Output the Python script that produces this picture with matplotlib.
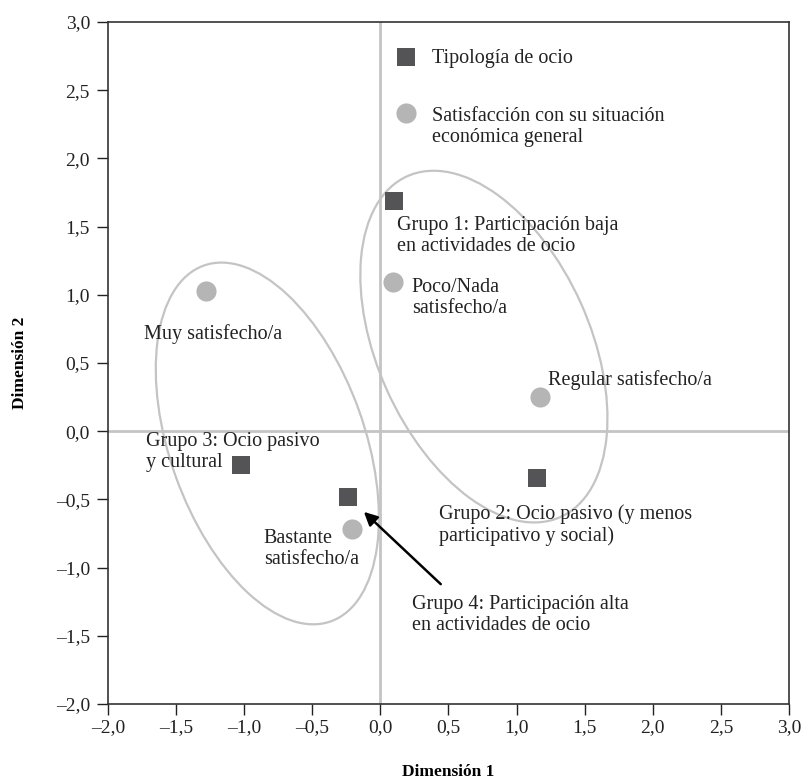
import matplotlib
matplotlib.use("Agg")
import matplotlib.pyplot as plt
from matplotlib.patches import Ellipse
from matplotlib.ticker import FuncFormatter
from matplotlib.legend_handler import HandlerPathCollection
import numpy as np

plt.rcParams['font.family'] = ['Liberation Serif', 'DejaVu Serif']

# Tipología de ocio (squares)
grupo_labels = ['Grupo 1: Participación baja\nen actividades de ocio',
                'Grupo 2: Ocio pasivo (y menos\nparticipativo y social)',
                'Grupo 3: Ocio pasivo\ny cultural',
                'Grupo 4: Participación alta\nen actividades de ocio']
grupo_x = [0.10, 1.15, -1.02, -0.24]
grupo_y = [1.69, -0.34, -0.25, -0.48]

# Satisfacción con su situación económica general (circles)
satis_labels = ['Muy satisfecho/a', 'Poco/Nada\nsatisfecho/a',
                'Regular satisfecho/a', 'Bastante\nsatisfecho/a']
satis_x = [-1.28, 0.09, 1.17, -0.21]
satis_y = [1.03, 1.09, 0.25, -0.72]

# clusters (ellipses): center x, center y, width, height, angle
ell_cx = [-0.83, 0.76]
ell_cy = [-0.09, 0.62]
ell_w = [2.77, 2.74]
ell_h = [1.43, 1.56]
ell_ang = [-70.3, -65.7]

SQ = '#545457'
CI = '#b5b5b5'
LG = '#c4c4c4'
TC = '#222222'

fig = plt.figure(figsize=(8.03, 7.79), dpi=100)
ax = fig.add_axes([0.1345, 0.0963, 0.848, 0.8755])

ax.axhline(0, color=LG, lw=2, zorder=1)
ax.axvline(0, color=LG, lw=2, zorder=1)

for cx, cy, w, h, a in zip(ell_cx, ell_cy, ell_w, ell_h, ell_ang):
    ax.add_patch(Ellipse((cx, cy), w, h, angle=a, fill=False, ec=LG, lw=1.6, zorder=2))

sq = ax.scatter(grupo_x, grupo_y, marker='s', s=170, color=SQ, lw=0, zorder=4,
                label='Tipología de ocio')
ci = ax.scatter(satis_x, satis_y, marker='o', s=210, color=CI, lw=0, zorder=4,
                label='Satisfacción con su situación\neconómica general')

fs = 14.5
ls = 1.15
# text offsets (points) from each point, top-left anchored
grupo_off = [(2, -11), (-70.6, -19), (-68.4, 24), (46, -71)]
satis_off = [(-44.6, -24), (13.7, 3.5), (5.8, 19.5), (-63.4, 0.5)]

for lab, x, y, off in zip(grupo_labels, grupo_x, grupo_y, grupo_off):
    ax.annotate(lab, (x, y), xytext=off, textcoords='offset points', linespacing=ls,
                ha='left', va='top', fontsize=fs, color=TC, zorder=5)
for lab, x, y, off in zip(satis_labels, satis_x, satis_y, satis_off):
    ax.annotate(lab, (x, y), xytext=off, textcoords='offset points', linespacing=ls,
                ha='left', va='top', fontsize=fs, color=TC, zorder=5)

# arrow towards Grupo 4
ax.annotate('', (grupo_x[3], grupo_y[3]), xytext=(67, -63), textcoords='offset points',
            arrowprops=dict(arrowstyle='-|>', color='black', lw=1.8, shrinkA=0, shrinkB=16,
                            mutation_scale=20))

ax.set_xlim(-2, 3)
ax.set_ylim(-2, 3)
ticks = np.arange(-2, 3.01, 0.5)
ax.set_xticks(ticks)
ax.set_yticks(ticks)
fmt = FuncFormatter(lambda v, p: ('%.1f' % v).replace('.', ',').replace('-', '\u2013'))
ax.xaxis.set_major_formatter(fmt)
ax.yaxis.set_major_formatter(fmt)
ax.tick_params(direction='out', length=8, width=1, labelsize=14, colors=TC)
ax.tick_params(axis='x', pad=3)
ax.tick_params(axis='y', pad=5)
for s in ax.spines.values():
    s.set_linewidth(1.2)
    s.set_color('#333333')

ax.set_xlabel('Dimensión 1', fontsize=12.5, fontweight='bold', labelpad=20)
ax.set_ylabel('Dimensión 2', fontsize=12.5, fontweight='bold', labelpad=20)

leg = ax.legend(loc='upper left', bbox_to_anchor=(0.405, 0.976), frameon=False,
                fontsize=fs, handletextpad=0.7, labelspacing=1.95, borderpad=0,
                handlelength=1.2, scatterpoints=1,
                handler_map={ci: HandlerPathCollection(yoffsets=[1.5])})
for t in leg.get_texts():
    t.set_color(TC)
    t.set_linespacing(ls)

fig.savefig('out.png', dpi=100)
